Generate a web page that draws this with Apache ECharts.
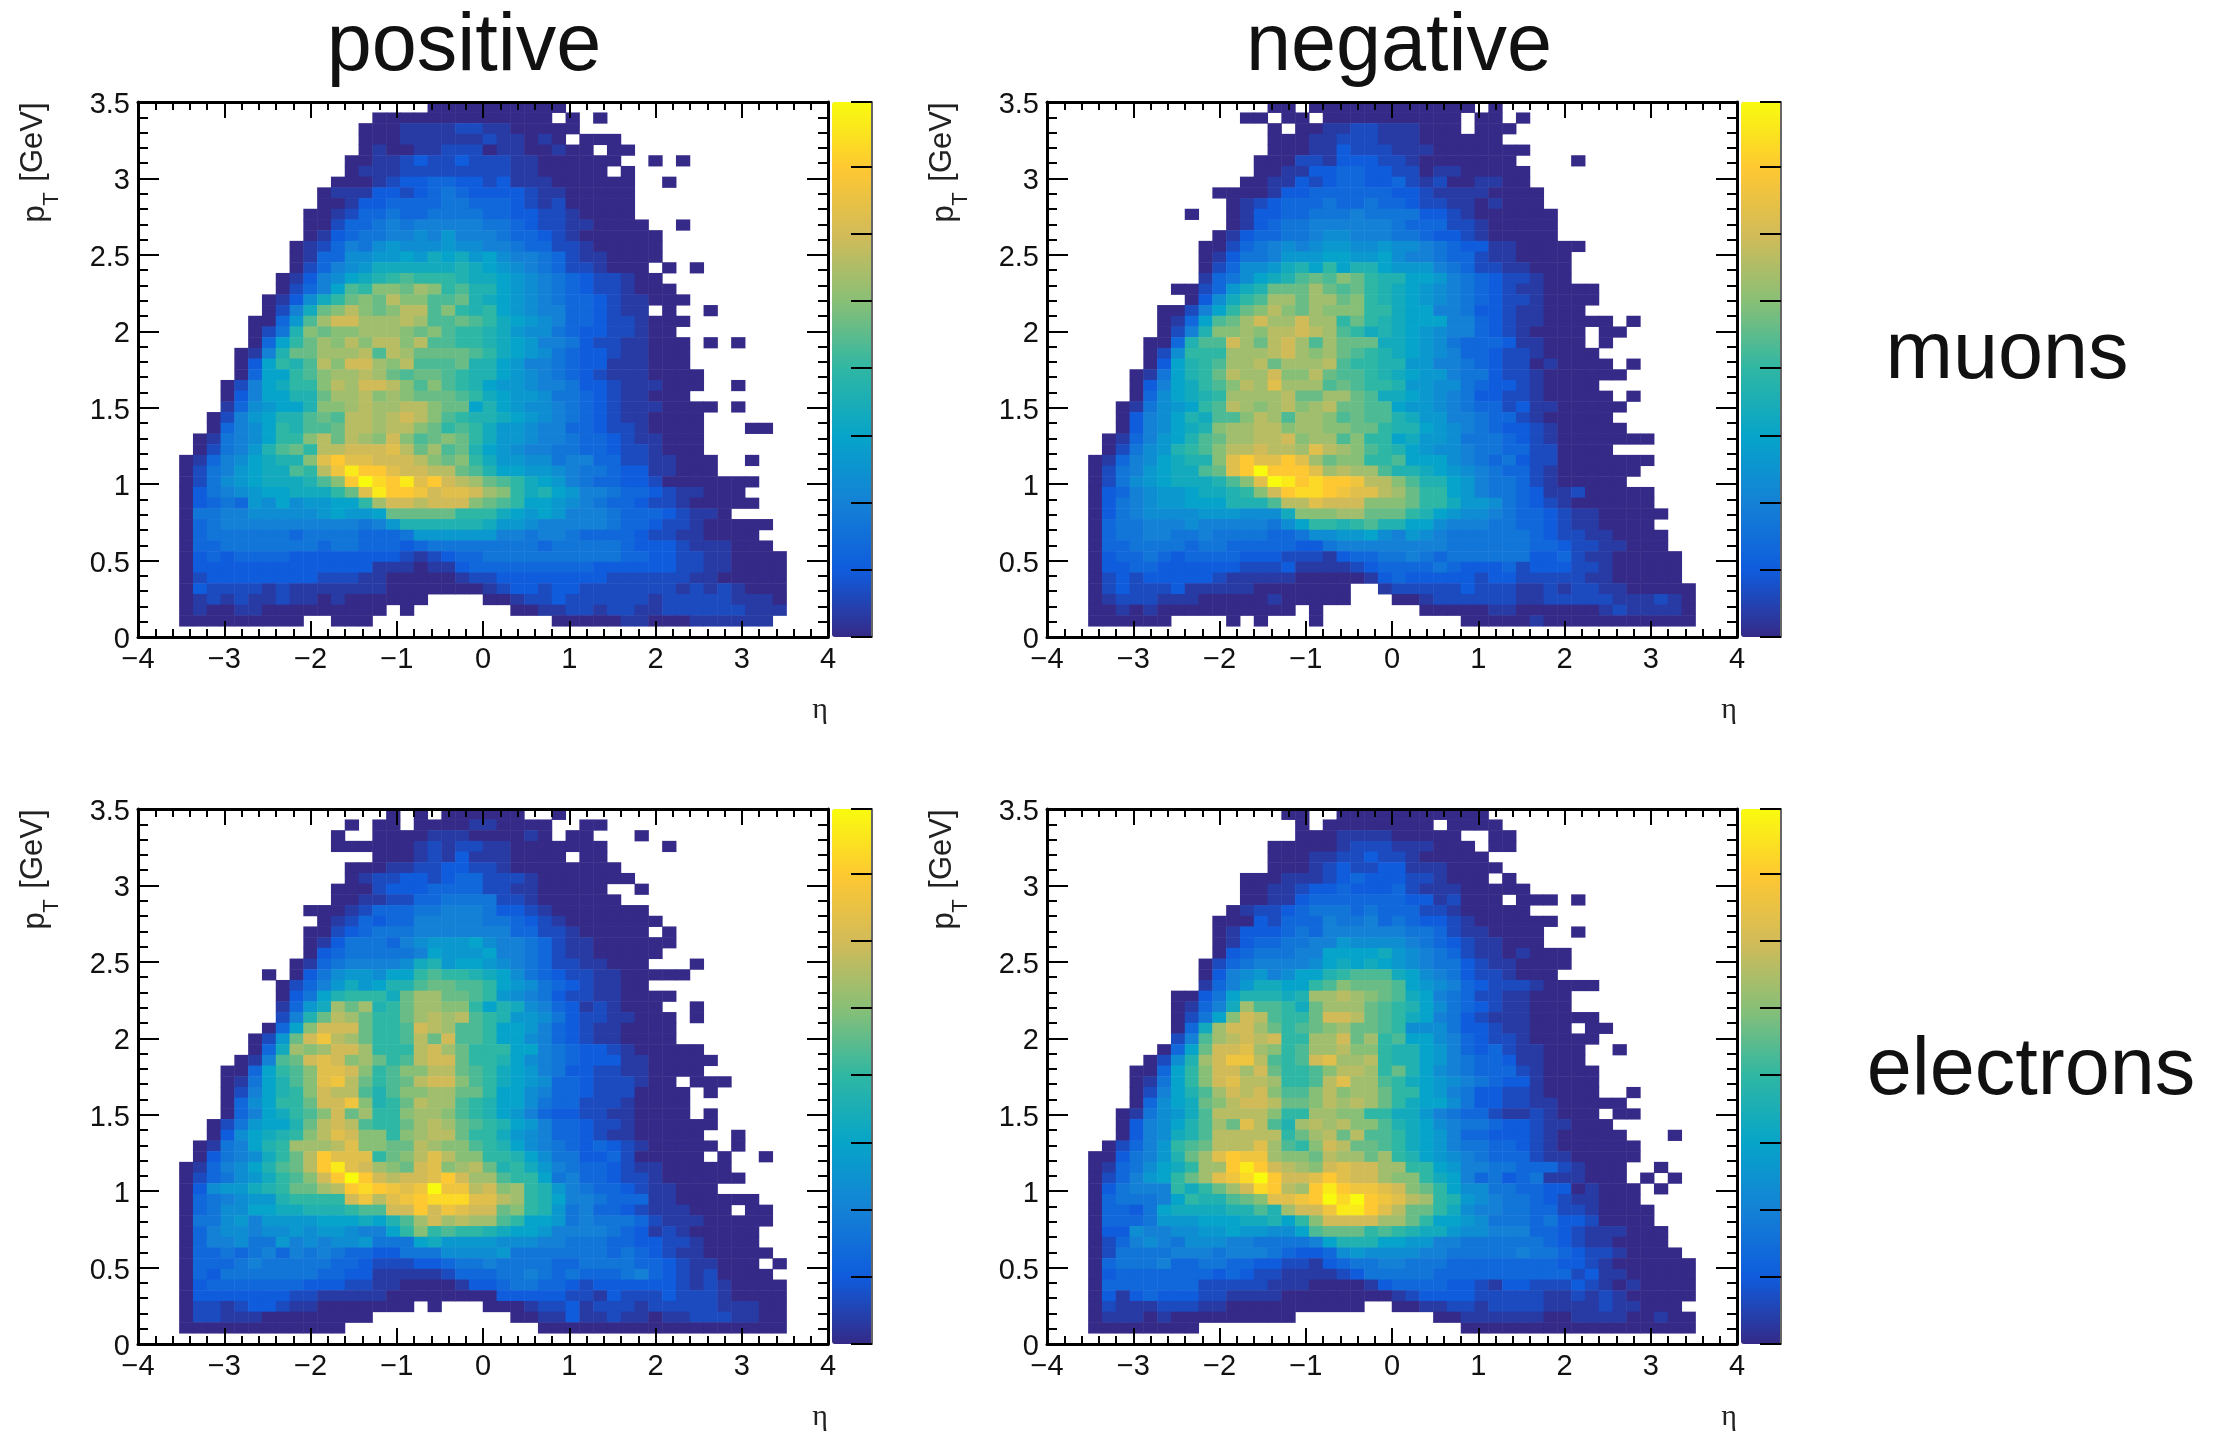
<!DOCTYPE html>
<html>
<head>
<meta charset="utf-8">
<title>pT vs eta</title>
<script src="https://cdn.jsdelivr.net/npm/echarts@6/dist/echarts.min.js"></script>
<style>
  html, body { margin: 0; background: #fff; }
  #chart { width: 2227px; height: 1431px; }
</style>
</head>
<body>
<div id="chart"></div>
<script>
// Every row is one pT bin, top row first (bin 49 down to bin 1). Every letter is one eta bin, bins 3 to 46.
// Letters are colour levels a (lowest) to y (highest), '.' is an empty bin. Spaces only help counting.
const muonsPositive = [
  ".......... ........aa aaaaaaaa..",
  ".......... ....aaaaaa aaaaaaa.a. a.........",
  ".......... ...aaabbbb ccbbaaaaa.",
  ".......... ...aaabbbb bbcbbaba.a aa........",
  ".......... ...abaabbc ccabbaabaa .aa.......",
  ".......... ..aabbcdcc dcccbbaaaa aa..a.a...",
  ".......... ..abbbcccc ccccbbaaaa a.a.......",
  ".......... .aaabcddee ddcdbbbaaa aaa..a....",
  ".......... abbbddcdef eddddcbbaa aaa.......",
  ".......... aabddeeeef feeedcbcaa aaa.......",
  ".........a abceefeeff ffeeddccba aaa.......",
  ".........a aceefgfggg ggffedccbb aaaa..a...",
  ".........a bdeffgghgi gggfeedcba aaaaa.....",
  "........ab cegfhihhhi hhggfeeccb aaaaa.....",
  "........ab eehhiijikj kijhggfecb baaaa.....",
  "........ac eghikkkkkk lkjihgfecc baaa.a.a..",
  ".......abd ghjklmnmmm lkkjihgfed ccbaa.....",
  ".......ace gjnmppoqpm nlljihgfed ccbaaa....",
  "......abdh kmoporppnn olkjihgfee dcbbaaa...",
  "......acgk oprpoprrnp mlmjihggee dcbb.a..a.",
  ".....aaein qssqqqrqnn onmkjihgee dccbaaa...",
  ".....acflp oppqqqpopn mmlkihhfed dccbaa....",
  ".....aejmo qprprrprnn mmlkjiggfd ccbbaaa.a. a...",
  "....abgloo qqqrnrqooo onmkjihfed dcbbaaa...",
  "....adjmln rpssqprnnn olljiggfed dbbbaaa...",
  "....aejjmn pqqrqonoon mlljihgfed cbbbaaaa..",
  "...acgjkmm prqssrpnpn mljiihggfd dcbbbaaa.. a...",
  "...adgjjll oqqrpqpooo nmkjiihffe dcbbaaa...",
  "...behijjl ppqrqqrrpo ojljihhgfe dcbbbaaaa. a...",
  "..acgijlln onrrqrsrpn mllkjihgfe dcbbaaaa..",
  "..aeghjmln norrqrrpom nmkiihggee dccbaaaa.. .aa.",
  ".abfghjmmp rorqpspnop omkiihggfe edcbbaaa..",
  ".acfgilnom rrssstroqn oljihggffe edccbaaa..",
  "abeghjkllp tvttsssrpo pmkiihhfgg eeccbbaaa. .a..",
  "acfgijkknm ruxvvtssrr onljjiihgf feddbbaaa.",
  "acfhijkkkl npvywvxtvs rqonmkjigf eeddcaaaaa aa..",
  "adfghijjkk kmotxvvust tsqpmkljig gfeedcbbaa a...",
  "adefeihjhi ijjmqssrss sponmjjihg feedccbaaa aa..",
  "affgghhhhh ijiijooooo mmmkjijigg gfeeedcbba",
  "aefggggggg gggfgillll llkiihgggg gfeedccbaa aaa.",
  "aeffffffef fffeeefiii iiiggfggfe eeedccbbaa aa..",
  "aeefffffff effeeedeff ffffffefff ffedddcbbb aaa.",
  "adedeeeedd ddddddcbcd eeffffffff ffeeddccbb aaaa",
  "addddddddd ddddbbbabb deeeeeeeee ddddddccbb aaaa",
  "acdddddddd cccbbaaaaa bccddddddd dccccccbba aaaa",
  "adccccbcbb bbbbbaaaaa aabcddcddc ccccccbcbc baaa",
  "abcbcbbcbb abaaaaaa.. ..aabccdcc ccccbccccc bbba",
  "abaabbaaaa aaaaa.a... ....aabbcc bccbbccccc cbbb",
  "aaaaaaaaa. .aaa...... .......aaa aabbaaabbb bbb."
];
const muonsNegative = [
  ".......... ...aa.aaaa aaaaaaaa.a",
  ".......... .aa.aa.aaa aaaaaaa.aa .a........",
  ".......... ...a.aabbc cbbbaaa.aa a.........",
  ".......... ...aaabbcc cbbbaaaaaa",
  ".......... ...aaabbdc ccbbbaaaaa aa........",
  ".......... ..aaaccbdd dccbaaaaaa a....a....",
  ".......... ..aabbddee ddccabbaaa aa........",
  ".......... .aabbdcdee ddecbcaabb aa........",
  ".........a aaabddeeee eeddcbbbba aaa.......",
  ".......... abcdeeefee feedccbbab aaa.......",
  ".......a.. abddeefffg ffffddcbaa aaaa......",
  ".......... abdeffgggg ggfeeeccba aaaa......",
  ".........a bdeeffghhg ggffeddcba aaaa......",
  "........aa cefghghiih hihhgfeddb baaaaa....",
  "........ab dffgiiijji ijhggfeecb baaaa.....",
  "........ac ehhikljmjl ljiiigfecc bbaaa.....",
  "........be fhjklnonpo mlljjigfed ccbaa.....",
  "......aace ikloooqono mlkjihgfed cbbaaaa...",
  ".......adh kmnqqoqqop mlkjihgfed ccbaaaa...",
  ".....aacgj moprpoqppp mmkjjggfdd cbbaaa....",
  ".....abejn oqsqqsqqmo mlkjjjgged cbbaaaaa.a",
  ".....acglp pqprrsrqnm klkjihgged cbaaaa.aa.",
  "....aaelnn sqorsqnqoo okkjihfeee dbbaaa.a..",
  "....achmmm qqqrsqpqon mlkjihgeed ccbaaaa...",
  "....adjlmn qqroqqqrnm mlliiggfed ccabaaaa.a",
  "...abfjlmo rqqsppronn mlkjiigffd ccbaaaaaa.",
  "...adgjkmn prqtqqqnon mmliihhfed dcbaaaa...",
  "...aehjklm qqqqrooqqo nkkjihgfdd ccbaaaaa.a",
  "..abfhijmn rqpqrpqroo nnjiihgfee cdbbaaaaa.",
  "..adghjlkn nprqnqqpno nnlkiiggfe ecbaaaaa..",
  "..adghjklp qqrrpqqppo omlljihgfe ddcbaaaaa.",
  ".abegijlno qqrrspqqnp mmjkiihfff edcbaaaaaa a...",
  ".acfhilmnp rrsrrqtrqp nmljihhgff eeccaaaa..",
  "abeghjkllp tvttvtqopp mmnjjjhgfe fdccaaaaaa a...",
  "acfgijkkno tvyvvvtqrq qnllkjihgf eecbaaaaaa",
  "acfhijkkkl nptyxvwvvu rrpnlljigf fecbaaaaa.",
  "adeghiijkk lmpsvwwvut trqommjigf fedbbcaaaa a...",
  "adfghiijjj lllnrrtsss pppommkiih fedcbaaaaa a...",
  "adfghhhhii ihhhkpppqq ooomljihhg feedcbbaaa aa..",
  "aeffggghgg gggfhjmmlm nlljjhgggf feedcbbaaa a...",
  "aeffggffgf fffeefhhii jhgihgffff ffedccbbaa aa..",
  "aeeffffeff eeeeeddfgg ggggggffff ffeedccbba aa..",
  "adeefedeee edddcccbde effgfeffff ffddecbbaa aaa.",
  "addeeddddd dcccdbbbbc deeeefeddd ecdddccbaa aaa.",
  "acdcdddddc bbbbbaaaaa bdedddddcd dcccccbbaa aaa.",
  "acdcccdbbb bbaaaaaaa. .bcccccdcc cbbcbccbba aaaa",
  "abcccbbbaa aaabaaaaa. ..aabccccc cbbcccccbb bcba",
  "aababaaaaa aaaaa.a... ....aaaaab baaaaaabcb bbba",
  "aaaaaa.... a.a...a... .......aaa aabaaaaaaa aaaa"
];
const electronsPositive = [
  ".......... .....a.a.a aaaaa..a..",
  ".......... ..a.aa.aaa abbaaaa..a a.........",
  ".......... .a..aaaabb baaaaba.aa ...a......",
  ".......... .aaaaaabcb ccbbaaaaaa a....a....",
  ".......... ....aaabcb dbbbaaaa.a a.........",
  ".......... ..aaabbccd dccbaaaaaa aa........",
  ".......... ..abccddcd eecccbaaaa aaa.......",
  ".......... .aaacdddee eeccbbaaaa a..a......",
  ".......... .aabbcceef fffccbaaaa aa........",
  ".........a aabceeeffg ggfddcbaaa aaaa......",
  ".......... abcedeeggg ggffedcbaa aaaaa.....",
  ".........a acdefffggg ggggeeccba aaaa.a....",
  ".........a bdfffeghii ijhggfecbb aaaaaa....",
  ".........a defffffgji iijggfecbb aaaaa.....",
  "........ab efgggghkli jjihgfeccb baaa...a..",
  "......a.ad fhiihjjmnm mlkjhfedcc bbaaaaa...",
  ".......ace gikijllnoo nnmjihfedc bbaa......",
  ".......adf jlmmmkoqqo onmihgfdcc bbaaaa....",
  ".......bei kqoqlmoqqp pmjlkhgedb cbaaa..a..",
  ".......cgl orqommoqrq rnmliihfdc cbbaaa.a..",
  "......aejp sssommnsrq nnmjjigedc bbaaaa....",
  ".....acios urqommnros nnmjjhgedc bbaaaa....",
  ".....aekqp qssqmmmrsq ommmjjgfed dcbaaaaa..",
  "....abgnos tspqomnrss ommljhgfed ddbbaaaaa.",
  "...aaejmnp ttspmnpprr onmkjigfdd ccbbaaaa..",
  "...abfjlnp turomnorss pnmkjiheed cccbaa.aaa",
  "...acgjlmp srrnlnppqq oomjjhgeed cccaaaa.a.",
  "...aehjmmo ssuplmorqq nmljjhfeec ccbaaaa...",
  "...aegjkmn psoqmmpqqp nmljigeddc cbbaaaa.a.",
  "..acfijjlo rsrnmmoqrq onmljigeed ccbaaaaaa.",
  "..adhjklmp rtsppmpqrr ommkihgeed cbbaaaaa.. a...",
  ".abfgjlmqq qrtppoorqp pnmljhgfed edcbaaaaa. a...",
  ".adfghkmor vtttmoprtr ppmmljhffd decaaaaa.a ..a.",
  "abeghjlnor vxtsqpostp qrolmkigfe edcbbaaaaa",
  "acefhikmnp svyvsrsstv sqqnmmjfge edccbaaaaa a...",
  "adhiiklmoo qrvwvutuyu urspqmligf eedcbbaaa.",
  "aefghiilmm mmsurtuvww wttrqmljgg feeebbaaaa aa..",
  "aefhhjjkkl llmnnssvsu tssopmlifg eedcbbbaaa .aa.",
  "affhigiiii jjjkjlnqsq rqqnmjjifg fffecbbbaa aaa.",
  "aeghhghhih iihggjmpmn mmlkjjiggg gfedbcbaaa aa..",
  "aegghffigh ghhifffjki iiihhhggff feeddccbaa aa..",
  "aeefefgegf gfeeddfffh hhhiffffff fefedcbbaa aaa.",
  "aeeefgffff feedcccdde ffgffffeef fffeedcbba aa.a",
  "aedfffffff eeddbbbbbc eeeffgfefe eefgedcbca aaa.",
  "adeeeeeeed ddccbbaaaa bddeffeedc ddddddcbcb aaaa",
  "adddddddcc bbbbbaaaaa aaadddddcc bdcccdcccb aaaa",
  "accbcddcbb aaaaaaa.a. ..aaabccdb cccbcccccb bbaa",
  "accbbbaaaa aaaa...... ....aabbdb bcbbabbccc bbaa",
  "aaaaaaaaaa aa........ ......aaaa aaaaaaaaaa aaaa"
];
const electronsNegative = [
  ".......... ....aa..aa aaaaaaaaa.",
  ".......... .....a.aaa aaaaa.aaaa",
  ".......... .....aaabb bbaaaaa..a a.........",
  ".......... ...aaaaabc ccbbbaaa.a a.........",
  ".......... ...aaabbcc dccbaaaaa.",
  ".......... ...aaabcdc cddbbbaaaa",
  ".......... .aaabbbcde dddccbaaa. a.........",
  ".......... .aabbcdded ddecbbbaaa aa........",
  ".......... .aabbdeeee eeeddbcaaa .aaa.a....",
  ".......... abccdefffe feeeccbaaa aa........",
  ".........a aadceeegff gefeddcbaa aaaa......",
  ".........a bdddefeggg gggffecbba aaa..a....",
  ".........a bdeeffggih hhhgfedcbb aaa.......",
  ".........a defffggjjj jkihgfecbb abaaa.....",
  "........ac efgggghjkj kjihgffdcb baaaa.....",
  "........ad ghighjjlmn nnkjhgfdcc baaa......",
  "........be gikkjjmnpo oonjihgedc ccbaaaa...",
  "......aadf jlllklqqrq ponkjgfecc bbaaa.....",
  "......abeg kqnnmkoqqq onmljhfedc bbaaa.....",
  "......acfj psrnmmossr onmkjgfdcb bbaaaaa...",
  "......aekq ssqomnopqo onmhhhfddc bbaaa.aa..",
  "......cgnq rsrsmmqqso qmnjjhgedc cbaaaaa...",
  ".....aejos stqpmnqqrp pmlljigede cbbaaa..a.",
  "....achlqs uurnmnstqq rmlljigfee dbbaaa....",
  "...aaejmps sqsommnprr qmoljhgfee ecbaaaa...",
  "...abfjmps trrqmmnrtq qnmkjihgfe ddbaaaa...",
  "...acgjlnq srspnnprpq qommjigfdd ccbaaaa..a",
  "...aehjkop rssrooprqr qomkjjhfdd ccbbaaaaa.",
  "..abfhiknr rrrpmmqqpp mmkkigfeec bbcbaaa.aa",
  "..adghjlnq otrnlqrqrp pnlkjhgffe ddcbbaaa..",
  "..adghklnr rrrrmoqror nnmkjigeed ddcbaaaaa. ..a.",
  ".acegimnor rrtqnmpsro onmkjigffe edcbaaaaaa",
  "aadfgiloqt vuuqpporqq oqmljihgfe eecbbaaaaa",
  "abefhjkmqq vxvsrqpsts sqqmmjiggf feeecbaaa. .a..",
  "acegijmoqt uwyvsstvts sqppmkjgef defbbbaaa. a.a.",
  "adfgggmkmo qswvrqvxvu utspomjhhf feeddabaaa .a..",
  "aefffgjmll nopttuvywy vutrqmlihg ffedcbbaaa",
  "aeedfjkkkk llnlqssuxx vtroomkhgg ffeeccbaaa a...",
  "aeeefiiijj jkkljmpsss sqqomjjihf ffefddcaaa a...",
  "addhgghhii jiihhjnooo mnmlkkihhg ggeedcbbba aa..",
  "aceghgfhhh ggffffgjll ljjiiggfff fffedcbbaa aa..",
  "acffffgggf gggfeddehi hhhhggffff fgffedccba aaa.",
  "aefffgeeff eeddccbdef fggfffeeee eeeeddcbaa aaaa",
  "adeeeeeeed edccbbbbcd fffffeeeee eeeeecdbba aaaa",
  "aeeeeeeecc cccbbbaaaa bdeeeeddcb ddcccdcbab aaaa",
  "adbdedddcc bbbbaaaaaa aabcddddcc cccbbcbcba aaaa",
  "acbbbcccbb aaaaaaaaaa ..aabbccbc cccbbbbcbb aaa.",
  "abbbabaaaa aaaaa..... .....aabbb bbbaabbbba abaa",
  "aaaaaaaa.. .......... .......aaa aaaaaaaaaa aaaa"
];

const levels = 'abcdefghijklmnopqrstuvwxy';
// ROOT bird palette
const birdColors = ['#352a87', '#0f5cdd', '#1481d6', '#06a4ca', '#2eb7a4', '#87bf77', '#d1bb59', '#fec832', '#f9fb0e'];
const columnTitles = ['positive', 'negative'];
const rowTitles = ['muons', 'electrons'];

const panels = [
  { rows: muonsPositive, left: 138, top: 102 },
  { rows: muonsNegative, left: 1047, top: 102 },
  { rows: electronsPositive, left: 138, top: 809 },
  { rows: electronsNegative, left: 1047, top: 809 }
];
const plotW = 690, plotH = 535, barGap = 4, barW = 40;
const textFont = '"Liberation Sans", Arial, sans-serif';
const binCount = [...Array(50).keys()];

function rowsToCells(rows) {
  const cells = [];
  rows.forEach((row, r) => {
    const flat = row.replace(/ /g, '').padEnd(44, '.');
    for (let c = 0; c < 44; c++) {
      const level = levels.indexOf(flat[c]);
      if (level >= 0) cells.push([c + 3, 49 - r, level]);
    }
  });
  return cells;
}

const grid = [], xAxis = [], yAxis = [], series = [], visualMap = [], graphic = [];

panels.forEach((p, i) => {
  const box = { left: p.left, top: p.top, width: plotW, height: plotH };
  const g = grid.length;
  // grid g holds the cells, grid g + 1 the ticks, grid g + 2 the colour bar ticks
  grid.push(box, box, { left: p.left + plotW + barGap, top: p.top, width: barW, height: plotH });

  const ax0 = xAxis.length;
  xAxis.push({ gridIndex: g, type: 'category', data: binCount, show: false });
  yAxis.push({ gridIndex: g, type: 'category', data: binCount, show: false });

  const xBase = {
    gridIndex: g + 1, type: 'value', min: -4, max: 4, interval: 1, z: 10,
    splitLine: { show: false },
    axisLine: { onZero: false, lineStyle: { color: '#000', width: 3 } },
    axisTick: { inside: true, length: 16, lineStyle: { color: '#000', width: 2 } },
    minorTick: { show: true, splitNumber: 5, length: 8, lineStyle: { color: '#000', width: 2 } }
  };
  const yBase = {
    gridIndex: g + 1, type: 'value', min: 0, max: 3.5, interval: 0.5, z: 10,
    splitLine: { show: false },
    axisLine: { onZero: false, lineStyle: { color: '#000', width: 3 } },
    axisTick: { inside: true, length: 21, lineStyle: { color: '#000', width: 2 } },
    minorTick: { show: true, splitNumber: 5, length: 10, lineStyle: { color: '#000', width: 2 } }
  };
  xAxis.push({
    ...xBase, position: 'bottom',
    axisLabel: { margin: 8, fontSize: 29, color: '#111', fontFamily: textFont, formatter: v => String(v).replace('-', '\u2212') }
  });
  xAxis.push({ ...xBase, position: 'top', axisLabel: { show: false } });
  yAxis.push({
    ...yBase, position: 'left',
    axisLabel: {
      margin: 8, color: '#111',
      formatter: v => '{n|' + v + '}',
      // extra space on top pushes the number a little below its tick
      rich: { n: { fontSize: 29, color: '#111', fontFamily: textFont, padding: [6, 0, 0, 0] } }
    }
  });
  yAxis.push({ ...yBase, position: 'right', axisLabel: { show: false } });

  // colour bar ticks
  xAxis.push({ gridIndex: g + 2, type: 'value', min: 0, max: 1, show: false });
  yAxis.push({
    gridIndex: g + 2, type: 'value', position: 'right', min: 0, max: 7.96, interval: 1, z: 10,
    splitLine: { show: false },
    axisLine: { onZero: false, lineStyle: { color: '#666', width: 2 } },
    axisTick: { inside: true, length: 21, lineStyle: { color: '#000', width: 2 } },
    axisLabel: { show: false }
  });

  series.push({
    type: 'heatmap',
    xAxisIndex: ax0, yAxisIndex: ax0,
    data: rowsToCells(p.rows),
    progressive: 0,
    animation: false,
    silent: true
  });
  visualMap.push({
    type: 'continuous', seriesIndex: i, min: 0, max: 24,
    left: p.left + plotW + barGap, top: p.top, padding: 0,
    itemWidth: barW, itemHeight: plotH,
    calculable: false, hoverLink: false,
    inRange: { color: birdColors },
    textStyle: { fontSize: 0 }
  });

  // axis titles
  const tx = { font: '31px ' + textFont, fill: '#222', textAlign: 'center', textVerticalAlign: 'middle' };
  graphic.push(
    { type: 'text', x: p.left - 105, y: p.top + 40, rotation: Math.PI / 2, style: { ...tx, text: '[GeV]' } },
    { type: 'text', x: p.left - 103, y: p.top + 112, rotation: Math.PI / 2, style: { ...tx, text: 'p' } },
    { type: 'text', x: p.left - 86, y: p.top + 97, rotation: Math.PI / 2, style: { ...tx, font: '22px ' + textFont, text: 'T' } },
    { type: 'text', x: p.left + 682, y: p.top + 608, style: { ...tx, font: '30px "Liberation Serif", serif', text: '\u03b7' } }
  );
});

const bigText = { font: '81px ' + textFont, fill: '#111', textAlign: 'center', textVerticalAlign: 'middle' };
graphic.push(
  { type: 'text', x: 464, y: 48, style: { ...bigText, text: columnTitles[0] } },
  { type: 'text', x: 1399, y: 48, style: { ...bigText, text: columnTitles[1] } },
  { type: 'text', x: 2007, y: 356, style: { ...bigText, text: rowTitles[0] } },
  { type: 'text', x: 2031, y: 1072, style: { ...bigText, text: rowTitles[1] } }
);

const chart = echarts.init(document.getElementById('chart'));
chart.setOption({
  backgroundColor: '#fff',
  animation: false,
  grid, xAxis, yAxis, series, visualMap, graphic
});
</script>
</body>
</html>
